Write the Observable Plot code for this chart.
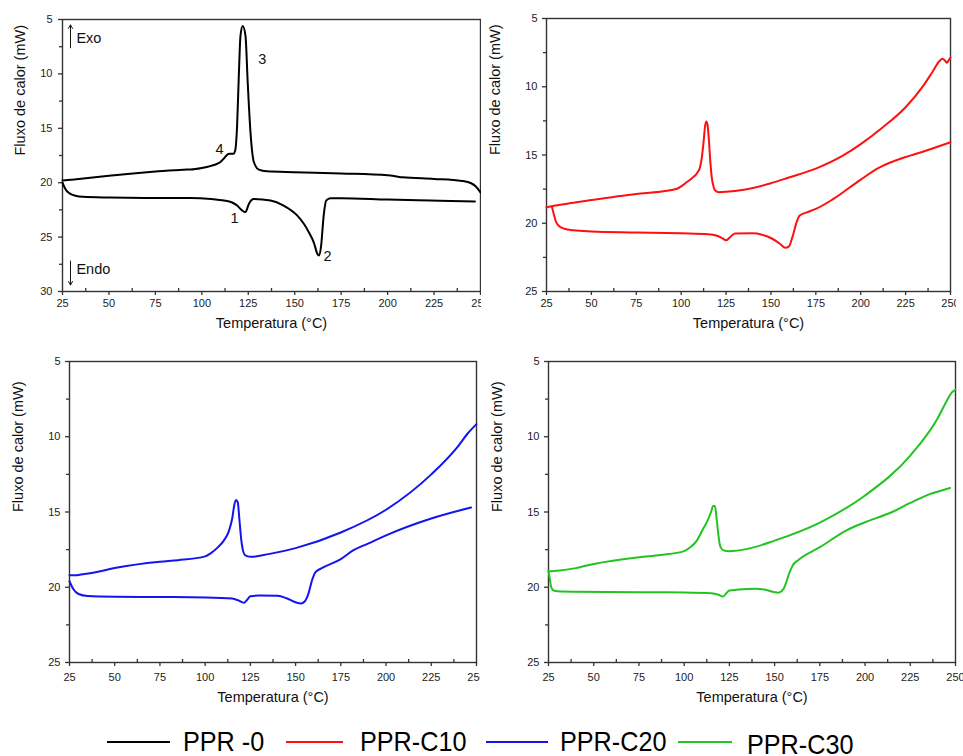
<!DOCTYPE html>
<html>
<head>
<meta charset="utf-8">
<script src="https://cdn.jsdelivr.net/npm/d3@7"></script>
<script src="https://cdn.jsdelivr.net/npm/@observablehq/plot@0.6"></script>
<style>
  html, body { margin: 0; padding: 0; background: #fff; }
  #root { position: relative; width: 963px; height: 756px; overflow: hidden; background: #fff;
          font-family: "Liberation Sans", Arial, sans-serif; }
  .panel { position: absolute; }
  .legend-item { position: absolute; display: flex; align-items: center; }
  .legend-line { height: 2px; }
  .legend-text { font-size: 28px; color: #000; transform: scaleX(0.9); transform-origin: left center; white-space: pre; }
</style>
</head>
<body>
<div id="root"></div>
<script>
// ---------- DATA (temperature °C, heat flow mW) ----------
const xTicks = [25, 50, 75, 100, 125, 150, 175, 200, 225, 250];
const xMinorTicks = [37.5, 62.5, 87.5, 112.5, 137.5, 162.5, 187.5, 212.5, 237.5];
const yTicks30 = [5, 10, 15, 20, 25, 30];
const yMinor30 = [7.5, 12.5, 17.5, 22.5, 27.5];
const yTicks25 = [5, 10, 15, 20, 25];
const yMinor25 = [7.5, 12.5, 17.5, 22.5];

const xTitle = "Temperatura (°C)";
const yTitle = "Fluxo de calor (mW)";

const seriesNames = ["PPR -0", "PPR-C10", "PPR-C20", "PPR-C30"];
const seriesColors = ["#000000", "#ff1010", "#1414f0", "#22c422"];

// PPR-0
const ppr0Cooling = [[25,19.8],[30,19.72],[40,19.55],[50,19.37],[60,19.2],[75,18.98],[90,18.8],[94,18.79],[100,18.65],[105,18.45],[108,18.28],[110,18.1],[112,17.75],[113.5,17.45],[115,17.35],[117,17.35],[118,17.0],[119,14.7],[119.9,10.2],[120.8,6.5],[122,5.6],[123.5,6.5],[124.7,10.8],[126.2,15.4],[128,18.1],[130.7,18.8],[135,18.95],[150,19.03],[175,19.15],[200,19.32],[204,19.4],[208,19.5],[225,19.65],[240,19.84],[245,20.05],[247.5,20.35],[250,20.9]];
const ppr0Heating = [[25,20.0],[26,20.4],[27,20.7],[29,21.0],[32,21.2],[36,21.3],[50,21.36],[75,21.4],[94,21.4],[105,21.5],[112,21.64],[116,21.8],[119,22.1],[121.7,22.55],[123.5,22.7],[125.3,21.95],[128,21.5],[137,21.64],[144,22.1],[151.3,23.0],[155,23.8],[157.6,24.55],[160.3,25.5],[162.1,26.5],[163,26.7],[164.2,25.8],[165.6,23.0],[166.9,21.64],[169.2,21.42],[175,21.42],[200,21.55],[223,21.64],[247,21.73]];

// PPR-C10
const c10Cooling = [[25,18.83],[30,18.7],[40,18.5],[50,18.3],[75,17.85],[90,17.65],[98,17.45],[100,17.3],[103,17.0],[106,16.7],[109,16.3],[110.5,15.9],[111.5,15.2],[112.5,14.0],[113.3,12.9],[114,12.55],[114.7,12.8],[115.5,14.0],[116.3,15.6],[117,16.6],[118,17.3],[119,17.6],[121,17.72],[125,17.7],[135,17.55],[150,17.07],[160,16.65],[175,16.0],[190,15.05],[200,14.2],[212,13.0],[225,11.5],[235,9.9],[240,8.9],[244,8.1],[245.5,7.95],[247,8.1],[248,8.25],[249,8.05],[250,7.86]];
const c10Heating = [[28,18.8],[29,19.3],[30,19.8],[32,20.2],[35,20.4],[40,20.52],[50,20.6],[75,20.67],[100,20.74],[115,20.8],[120,20.92],[123,21.1],[125,21.25],[127,21.05],[130,20.75],[140,20.74],[145,20.84],[150,21.08],[155,21.5],[158,21.8],[160,21.7],[162,21.0],[164,20.05],[166,19.44],[170,19.2],[175,18.95],[185,18.2],[200,16.8],[210,15.95],[225,15.15],[230,14.95],[250,14.06]];

// PPR-C20
const c20Cooling = [[25,19.2],[29,19.2],[30,19.18],[40,18.98],[50,18.72],[75,18.3],[85,18.2],[100,17.95],[103,17.75],[107,17.35],[110,16.95],[113,16.3],[115,15.4],[116,14.6],[117,14.2],[118,14.35],[119,15.6],[120,16.9],[121,17.6],[122,17.87],[125,17.98],[135,17.8],[150,17.4],[175,16.36],[200,14.85],[225,12.5],[240,10.6],[245,9.8],[250,9.16]];
const c20Heating = [[25,19.6],[27,20.1],[30,20.45],[35,20.58],[50,20.63],[75,20.65],[100,20.68],[115,20.75],[118,20.86],[120,20.97],[121.5,21.03],[123,20.86],[125,20.6],[130,20.55],[140,20.57],[145,20.73],[150,21.0],[153,21.08],[155,20.95],[157,20.46],[159,19.57],[161,19.0],[165,18.7],[175,18.13],[182,17.54],[190,17.1],[200,16.55],[225,15.43],[247,14.7]];

// PPR-C30
const c30Cooling = [[25,18.93],[27,18.93],[30,18.9],[40,18.73],[50,18.45],[75,18.0],[87,17.85],[100,17.6],[103,17.38],[107,16.9],[110,16.23],[113,15.56],[115,14.95],[116,14.6],[117,14.6],[118,15.5],[119,16.6],[120,17.3],[122,17.56],[125,17.6],[135,17.45],[150,16.9],[175,15.7],[200,13.9],[225,11.25],[240,8.8],[245,7.65],[248,7.05],[250,6.88]];
const c30Heating = [[25,18.93],[25.7,19.42],[26.4,19.95],[27.6,20.2],[30,20.27],[40,20.3],[75,20.33],[100,20.35],[115,20.4],[119,20.5],[121.5,20.62],[123,20.44],[125,20.22],[130,20.15],[140,20.1],[145,20.17],[150,20.33],[152,20.36],[155,20.1],[158,19.1],[160,18.55],[163,18.2],[175,17.34],[190,16.2],[200,15.68],[215,15.0],[225,14.4],[235,13.85],[247,13.4]];

// Annotations in PPR-0 panel (data units)
const peakLabels = [
  {t: 117.6, f: 23.3, label: "1"},
  {t: 167.6, f: 26.8, label: "2"},
  {t: 132.6, f: 8.7, label: "3"},
  {t: 109.5, f: 16.95, label: "4"}
];
const directionLabels = [
  {t: 32.5, f: 6.75, label: "Exo"},
  {t: 32.5, f: 27.98, label: "Endo"}
];
const directionArrows = [
  {t: 29.3, f1: 7.6, f2: 5.5},
  {t: 29.3, f1: 27.2, f2: 29.4}
];

// ---------- DRAWING ----------
const root = document.getElementById("root");

function makePanel(cfg) {
  const marks = [
    Plot.frame({stroke: "#333", strokeWidth: 1.4}),
    Plot.axisX(xTicks, {anchor: "bottom", tickSize: 4, tickPadding: cfg.xPad, fontSize: 11, label: null, stroke: "#333", strokeWidth: 1.3}),
    Plot.axisX(xMinorTicks, {anchor: "bottom", tickSize: 3, dy: -3, tickFormat: () => "", label: null, stroke: "#333", strokeWidth: 1.3}),
    Plot.axisY(cfg.yTicks, {anchor: "left", tickSize: 4, tickPadding: cfg.yPad, fontSize: 11, label: null, stroke: "#333", strokeWidth: 1.3}),
    Plot.axisY(cfg.yMinor, {anchor: "left", tickSize: 3, tickFormat: () => "", label: null, stroke: "#333", strokeWidth: 1.3}),
    Plot.text([yTitle], {text: d => d, frameAnchor: "left", dx: cfg.yTitleDx, rotate: -90, fontSize: 14.5, fill: "#111"}),
    Plot.text([xTitle], {text: d => d, frameAnchor: "bottom", dy: cfg.xTitleDy, fontSize: 14.5, fill: "#111"})
  ];
  for (const c of cfg.curves) {
    marks.push(Plot.line(c, {x: d => d[0], y: d => d[1], stroke: cfg.color, strokeWidth: 2, curve: "monotone-x"}));
  }
  if (cfg.extra) marks.push(...cfg.extra);
  const svg = Plot.plot({
    width: cfg.width,
    height: cfg.height,
    marginLeft: cfg.ml, marginRight: cfg.mr, marginTop: cfg.mt, marginBottom: cfg.mb,
    style: {background: "transparent", color: "#222", fontFamily: "'Liberation Sans', Arial, sans-serif", overflow: "hidden"},
    x: {domain: [25, 250]},
    y: {domain: cfg.yDomain, reverse: true},
    marks
  });
  const wrap = document.createElement("div");
  wrap.className = "panel";
  wrap.style.left = cfg.left + "px";
  wrap.style.top = cfg.top + "px";
  wrap.appendChild(svg);
  root.appendChild(wrap);
}

const annotationMarks = [
  Plot.text(peakLabels, {x: "t", y: "f", text: "label", fontSize: 14.5, fill: "#111"}),
  Plot.text(directionLabels, {x: "t", y: "f", text: "label", fontSize: 14.5, fill: "#111", textAnchor: "start"}),
  Plot.arrow(directionArrows, {x1: "t", x2: "t", y1: "f1", y2: "f2", stroke: "#111", strokeWidth: 1, headLength: 6})
];

makePanel({left: 0, top: 0, width: 481, height: 340, ml: 62, mr: 1, mt: 19, mb: 49,
  yDomain: [5, 30], yTicks: yTicks30, yMinor: yMinor30, color: seriesColors[0],
  curves: [ppr0Cooling, ppr0Heating], xPad: 4, yPad: 6, yTitleDx: -42, xTitleDy: 36, extra: annotationMarks});

makePanel({left: 480, top: 0, width: 476, height: 340, ml: 66, mr: 6, mt: 18, mb: 49,
  yDomain: [5, 25], yTicks: yTicks25, yMinor: yMinor25, color: seriesColors[1],
  curves: [c10Cooling, c10Heating], xPad: 4, yPad: 5, yTitleDx: -51, xTitleDy: 36});

makePanel({left: 0, top: 340, width: 480, height: 375, ml: 69, mr: 4, mt: 21, mb: 53,
  yDomain: [5, 25], yTicks: yTicks25, yMinor: yMinor25, color: seriesColors[2],
  curves: [c20Cooling, c20Heating], xPad: 7, yPad: 5, yTitleDx: -51, xTitleDy: 39});

makePanel({left: 480, top: 340, width: 483, height: 375, ml: 68, mr: 8, mt: 21, mb: 53,
  yDomain: [5, 25], yTicks: yTicks25, yMinor: yMinor25, color: seriesColors[3],
  curves: [c30Cooling, c30Heating], xPad: 7, yPad: 5, yTitleDx: -51, xTitleDy: 39});

// Legend (HTML, below the panels)
const legendLeft = [107, 286, 486, 678];
const legendLineW = [63, 57, 62, 54];
const legendGap = [13, 17, 12, 15];
const legendTop = [722, 722, 722, 725];
seriesNames.forEach((name, i) => {
  const item = document.createElement("div");
  item.className = "legend-item";
  item.style.left = legendLeft[i] + "px";
  item.style.top = legendTop[i] + "px";
  item.style.height = "40px";
  const line = document.createElement("div");
  line.className = "legend-line";
  line.style.width = legendLineW[i] + "px";
  line.style.background = seriesColors[i];
  line.style.marginRight = legendGap[i] + "px";
  line.style.marginTop = (i === 3 ? -6 : 0) + "px";
  const txt = document.createElement("span");
  txt.className = "legend-text";
  txt.textContent = name;
  item.appendChild(line);
  item.appendChild(txt);
  root.appendChild(item);
});
</script>
</body>
</html>
